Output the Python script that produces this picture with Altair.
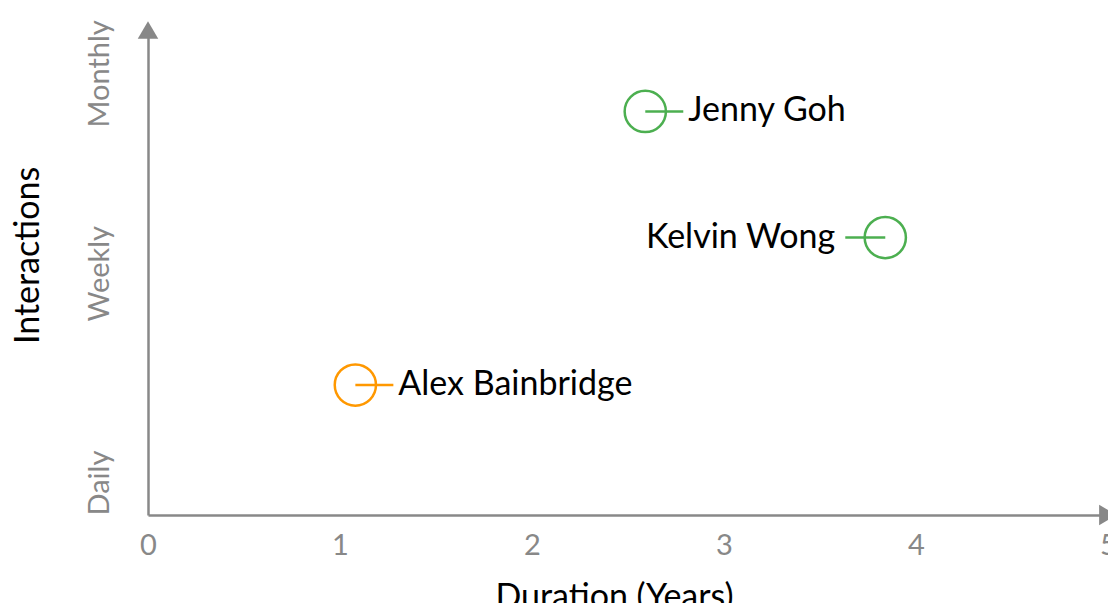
import altair as alt
import pandas as pd

names = ["Alex Bainbridge", "Jenny Goh", "Kelvin Wong"]
duration = [1.08, 2.59, 3.84]
interactions = [0.67, 2.08, 1.43]
groups = ["orange", "green", "green"]
label_side = ["right", "right", "left"]

x_tick_values = [0, 1, 2, 3, 4, 5]
y_tick_values = [0, 1, 2]
y_tick_labels = ["Daily", "Weekly", "Monthly"]
x_domain = [0, 5]
y_domain = [0, 2.5]

df = pd.DataFrame({
    "name": names, "duration": duration, "interactions": interactions,
    "group": groups, "side": label_side,
})
arrows = pd.DataFrame({
    "duration": [x_domain[0], x_domain[1]],
    "interactions": [y_domain[1], y_domain[0]],
    "shape": ["triangle-up", "triangle-right"],
})

FONT = "Lato"
GRAY = "#888888"
label_expr = "[" + ",".join("'%s'" % s for s in y_tick_labels) + "][datum.value]"

x = alt.X("duration:Q", scale=alt.Scale(domain=x_domain, nice=False),
          axis=alt.Axis(title="Duration (Years)", values=x_tick_values, format="d",
                        labelFlush=False, labelPadding=16, titleX=466, titleY=92,
                        titleBaseline="alphabetic"))
y = alt.Y("interactions:Q", scale=alt.Scale(domain=y_domain, nice=False),
          axis=alt.Axis(title="Interactions", values=y_tick_values, labelExpr=label_expr,
                        labelAngle=270, labelAlign="left", labelBaseline="alphabetic",
                        labelPadding=40, labelFlush=False,
                        titleAngle=270, titleX=-110, titleY=225, titleBaseline="alphabetic"))
color = alt.Color("group:N", scale=alt.Scale(domain=["orange", "green"],
                                             range=["#FF9800", "#4CAF50"]), legend=None)

base = alt.Chart(df)

rule_r = base.transform_filter("datum.side == 'right'").mark_rule(
    x2Offset=38, strokeWidth=2.5).encode(x=x, x2="duration:Q", y=y, color=color)
rule_l = base.transform_filter("datum.side == 'left'").mark_rule(
    x2Offset=-40, strokeWidth=2.5).encode(x=x, x2="duration:Q", y=y, color=color)
circles = base.mark_point(shape="circle", size=1700, filled=False, strokeWidth=2.5,
                          opacity=1).encode(x=x, y=y, color=color)
text_r = base.transform_filter("datum.side == 'right'").mark_text(
    align="left", baseline="middle", dx=43, fontSize=34, font=FONT, color="black"
).encode(x=x, y=y, text="name:N")
text_l = base.transform_filter("datum.side == 'left'").mark_text(
    align="right", baseline="middle", dx=-50, fontSize=34, font=FONT, color="black"
).encode(x=x, y=y, text="name:N")
arrow_marks = alt.Chart(arrows).mark_point(filled=True, size=420, color=GRAY, opacity=1).encode(
    x=alt.X("duration:Q"), y=alt.Y("interactions:Q"),
    shape=alt.Shape("shape:N", scale=None))

chart = alt.layer(arrow_marks, rule_r, rule_l, circles, text_r, text_l).properties(
    width=960, height=485,
    autosize=alt.AutoSizeParams(type="none"),
    padding={"left": 140, "top": 22, "right": 0, "bottom": 88},
).configure_view(stroke=None).configure_axis(
    domainColor=GRAY, domainWidth=2.5, ticks=False, grid=False,
    labelColor=GRAY, labelFont=FONT, labelFontSize=29, labelFontWeight="normal",
    titleColor="black", titleFont=FONT, titleFontSize=34, titleFontWeight="normal",
    labelOverlap=False,
)

chart.save("out.html", embed_options={"renderer": "svg", "actions": False})
